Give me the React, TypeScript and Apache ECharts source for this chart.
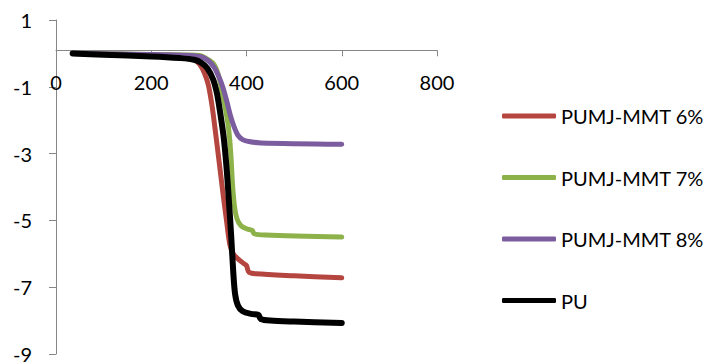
import React, { useEffect, useRef } from "react";
import * as echarts from "echarts";

const seriesNames = ["PUMJ-MMT 6%", "PUMJ-MMT 7%", "PUMJ-MMT 8%", "PU"];
const seriesColors = ["#B5453F", "#8DB24A", "#7B5C9E", "#000000"];

const mmt6: [number, number][] = [
  [35, 0], [100, -0.02], [200, -0.05], [270, -0.1], [290, -0.18], [302, -0.33],
  [312, -0.6], [320, -0.95], [328, -1.6], [334, -2.26], [343, -3.3], [351, -4.24],
  [358, -5.0], [365, -5.72], [372, -6.0], [382, -6.15], [395, -6.3], [400, -6.35],
  [405, -6.55], [420, -6.6], [500, -6.66], [600, -6.72],
];
const mmt7: [number, number][] = [
  [35, 0], [200, -0.03], [280, -0.05], [302, -0.06], [315, -0.15], [330, -0.3],
  [340, -0.6], [348, -1.1], [355, -1.6], [362, -2.2], [367, -3.0], [371, -4.0],
  [375, -4.6], [380, -4.95], [388, -5.15], [400, -5.25], [412, -5.3], [416, -5.4],
  [440, -5.44], [600, -5.5],
];
const mmt8: [number, number][] = [
  [35, 0], [200, -0.03], [280, -0.06], [305, -0.1], [320, -0.22], [332, -0.42],
  [342, -0.7], [350, -1.0], [358, -1.4], [366, -1.85], [374, -2.2], [382, -2.45],
  [392, -2.58], [405, -2.64], [430, -2.68], [600, -2.72],
];
const pu: [number, number][] = [
  [35, 0], [100, -0.04], [200, -0.09], [260, -0.14], [290, -0.19], [305, -0.28],
  [318, -0.45], [330, -0.78], [338, -1.2], [345, -1.8], [352, -2.5], [358, -3.4],
  [363, -4.4], [368, -5.5], [372, -6.5], [376, -7.2], [382, -7.55], [392, -7.72],
  [410, -7.8], [425, -7.83], [430, -7.95], [450, -8.0], [500, -8.03], [600, -8.07],
];
const seriesData = [mmt6, mmt7, mmt8, pu];

const xMin = 0, xMax = 800, xStep = 200;
const yMin = -9, yMax = 1, yStep = 2;

export default function App() {
  const ref = useRef<HTMLDivElement>(null);
  useEffect(() => {
    if (!ref.current) return;
    const chart = echarts.init(ref.current, undefined, { renderer: "svg" });
    const font = "Lato, 'Open Sans', sans-serif";
    const axisColor = "#868686";
    const gridTop = 20, gridHeight = 337.5;
    const zeroY = gridTop + gridHeight * (yMax - 0) / (yMax - yMin);
    const xOffset = zeroY - (gridTop + gridHeight);
    chart.setOption({
      animation: false,
      backgroundColor: "#ffffff",
      textStyle: { fontFamily: font },
      grid: { left: 56, top: gridTop, width: 381, height: gridHeight },
      xAxis: {
        type: "value", min: xMin, max: xMax, interval: xStep, position: "bottom", offset: xOffset,
        axisLine: { show: true, onZero: false, lineStyle: { color: axisColor, width: 1 } },
        axisTick: { show: true, length: 6, lineStyle: { color: axisColor } },
        axisLabel: { fontSize: 20, color: "#000", margin: 22, fontFamily: font },
        splitLine: { show: false },
      },
      yAxis: {
        type: "value", min: yMin, max: yMax, interval: yStep,
        axisLine: { show: true, lineStyle: { color: axisColor, width: 1 } },
        axisTick: { show: true, length: 7, lineStyle: { color: axisColor } },
        axisLabel: { fontSize: 20, color: "#000", margin: 24, fontFamily: font },
        splitLine: { show: false },
      },
      legend: {
        orient: "vertical", left: 497, top: 101, itemWidth: 54, itemHeight: 5, itemGap: 41.5,
        icon: "roundRect",
        textStyle: { fontSize: 20, color: "#000", fontFamily: font },
        data: seriesNames,
      },
      series: seriesNames.map((name, i) => ({
        name, type: "line", data: seriesData[i], symbol: "none", smooth: 0.3,
        color: seriesColors[i],
        lineStyle: { width: i === 3 ? 6 : 5, color: seriesColors[i], cap: "round", join: "round" },
      })),
    });
    return () => chart.dispose();
  }, []);
  return <div ref={ref} style={{ position: "fixed", left: 0, top: 0, width: 713, height: 364 }} />;
}
